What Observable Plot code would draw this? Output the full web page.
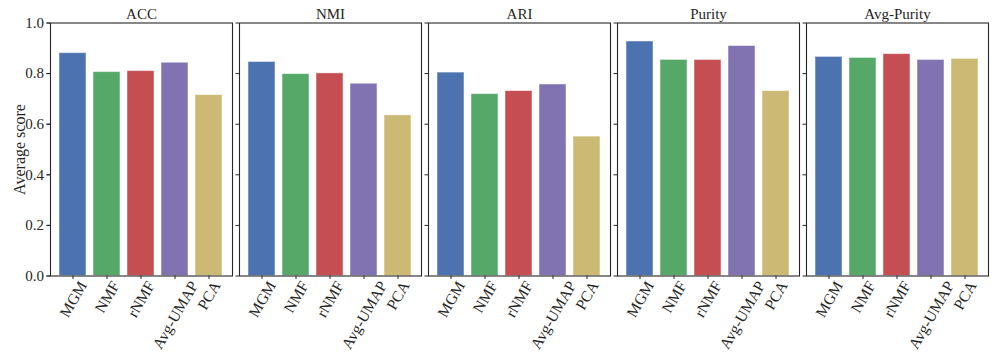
<!DOCTYPE html>
<html>
<head>
<meta charset="utf-8">
<script src="https://cdn.jsdelivr.net/npm/d3@7"></script>
<script src="https://cdn.jsdelivr.net/npm/@observablehq/plot@0.6"></script>
<style>
  html, body { margin: 0; padding: 0; background: white; }
  #chart svg { display: block; }
  #chart g[aria-label="y-axis label"] text { font-size: 16px; }
</style>
</head>
<body>
<div id="chart"></div>
<script>
const methods = ["MGM", "NMF", "rNMF", "Avg-UMAP", "PCA"];
const metrics = ["ACC", "NMI", "ARI", "Purity", "Avg-Purity"];
const accValues = [0.881, 0.806, 0.810, 0.843, 0.715];
const nmiValues = [0.846, 0.798, 0.801, 0.760, 0.635];
const ariValues = [0.804, 0.719, 0.731, 0.757, 0.551];
const purityValues = [0.927, 0.854, 0.854, 0.909, 0.731];
const avgPurityValues = [0.866, 0.862, 0.877, 0.854, 0.858];
const colors = ["#4C72B0", "#55A868", "#C44E52", "#8172B2", "#CCB974"];
const yTicks = [0, 0.2, 0.4, 0.6, 0.8, 1.0];

const series = [accValues, nmiValues, ariValues, purityValues, avgPurityValues];
const data = metrics.flatMap((m, i) => methods.map((k, j) => ({metric: m, method: k, value: series[i][j]})));

const chart = Plot.plot({
  width: 996,
  height: 361,
  marginLeft: 48,
  marginRight: 6,
  marginTop: 22.5,
  marginBottom: 85.5,
  style: {fontFamily: "'Liberation Serif', serif", fontSize: "15px", background: "white", color: "#262626"},
  fx: {domain: metrics, paddingInner: 0.036, paddingOuter: 0, label: null},
  x: {domain: methods, paddingInner: 0.2, paddingOuter: 0.245, label: null},
  y: {domain: [0, 1]},
  color: {domain: methods, range: colors},
  marks: [
    Plot.barY(data, {fx: "metric", x: "method", y: "value", fill: "method", stroke: "white", strokeOpacity: 0.5, strokeWidth: 1}),
    Plot.frame({stroke: "#262626", strokeWidth: 1.1}),
    Plot.axisY({ticks: yTicks, tickFormat: d => d.toFixed(1), tickSize: 3.5, tickPadding: 3, fontSize: 15,
      label: "Average score", labelAnchor: "center", labelArrow: "none", labelOffset: 37}),
    Plot.axisY({ticks: yTicks, tickSize: 3.5, text: null, label: null, facetAnchor: null}),
    Plot.axisX({tickRotate: -60, tickSize: 3.5, tickPadding: 3, fontSize: 15.5, label: null}),
    Plot.axisFx({anchor: "top", label: null, tickSize: 0, tickPadding: 4, fontSize: 15})
  ]
});
document.getElementById("chart").appendChild(chart);

// Centre each rotated tick label's bounding box horizontally on its tick (as the reference does)
chart.querySelectorAll('g[aria-label="x-axis tick label"] text').forEach(t => {
  const pt = chart.createSVGPoint();
  const anchor = pt.matrixTransform(t.getScreenCTM());
  const r = t.getBoundingClientRect();
  const shift = anchor.x - (r.left + r.right) / 2;
  const tr = t.getAttribute("transform") || "";
  t.setAttribute("transform", `translate(${shift.toFixed(2)},0) ` + tr);
});
</script>
</body>
</html>
